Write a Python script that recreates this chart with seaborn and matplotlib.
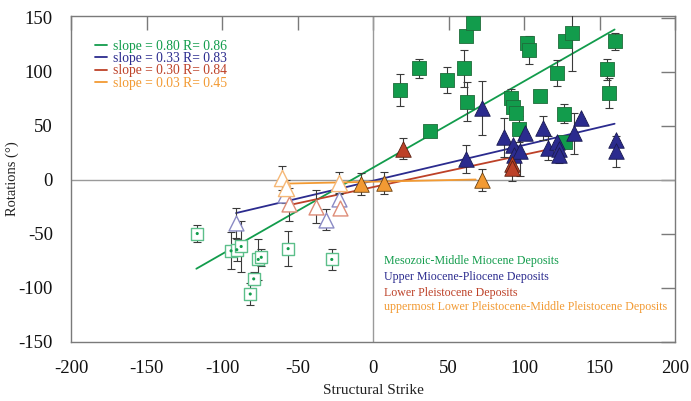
import numpy as np
import pandas as pd
import matplotlib
matplotlib.use("Agg")
import matplotlib.pyplot as plt
import seaborn as sns

# ---------------- data ----------------
# Mesozoic-Middle Miocene (filled green squares)
meso_x = [18, 30.5, 48.7, 38, 60, 62, 61.5, 66, 91.5, 93, 95, 96.4, 102, 103.5, 110.7, 122, 127, 132, 126.7, 127, 155, 156, 160]
meso_y = [83, 103, 92, 45, 103, 72, 133, 145, 76, 67, 62, 47, 126.5, 120, 77, 99, 128, 136, 61, 35, 102, 80, 128]
meso_e = [15, 9, 12, 5, 17, 18, 0, 0, 8, 0, 0, 12, 5, 13, 2, 12, 5, 35, 9, 0, 10, 14, 8]
# Mesozoic-Middle Miocene (open green squares)
mesoo_x = [-116.4, -94, -90.2, -87.3, -76, -74, -79, -81.3, -56.2, -27.3]
mesoo_y = [-50, -66, -65, -62, -74, -72, -92, -106, -64, -74]
mesoo_e = [8, 17, 10, 24, 19, 8, 6, 10, 16, 10]
# Upper Miocene-Pliocene (filled blue triangles)
upm_x = [72, 61.5, 87, 92.4, 93.5, 97.6, 100.4, 112.4, 116, 122, 123, 123, 133, 137.6, 161, 161]
upm_y = [66, 19, 39, 32, 23, 26, 43, 48, 29, 35, 28, 23, 43, 57, 37, 26]
upm_e = [25, 13, 18, 0, 0, 23, 0, 11, 11, 0, 0, 8, 19, 0, 0, 14]
# Upper Miocene-Pliocene (open blue triangles)
upmo_x = [-90.7, -58.4, -31.3, -22.4]
upmo_y = [-40, -14, -37, -18]
upmo_e = [14, 8, 10, 6]
# Lower Pleistocene (filled red triangles)
lp_x = [20, 92, 92]
lp_y = [28.7, 14, 11]
lp_e = [10, 15, 0]
# Lower Pleistocene (open red triangles)
lpo_x = [-55.8, -38, -21.8]
lpo_y = [-23, -25, -26]
lpo_e = [15, 15, 5]
# uppermost Lower Pleistocene-Middle Pleistocene (filled orange triangles)
ump_x = [-8, 7, 72]
ump_y = [-4, -3, -0.6]
ump_e = [10, 10, 10]
# uppermost Lower Pleistocene-Middle Pleistocene (open orange triangles)
umpo_x = [-60, -57.3, -22.4]
umpo_y = [1.5, -8, -3]
umpo_e = [11, 8, 10]

# regression fits: slope, intercept, x-range
fit_slope = [0.80, 0.33, 0.30, 0.03]
fit_icpt = [11.0, -1.1, -7.0, -2.0]
fit_xmin = [-117, -90.7, -56, -59]
fit_xmax = [160, 160, 115, 68]
fit_labels = ["slope = 0.80 R= 0.86", "slope = 0.33 R= 0.83",
              "slope = 0.30 R= 0.84", "slope = 0.03 R= 0.45"]

group_names = ["Mesozoic-Middle Miocene Deposits", "Upper Miocene-Pliocene Deposits",
               "Lower Pleistocene Deposits",
               "uppermost Lower Pleistocene-Middle Pleistocene Deposits"]

x_ticks = [-200, -150, -100, -50, 0, 50, 100, 150, 200]
y_ticks = [-150, -100, -50, 0, 50, 100, 150]

# ---------------- style ----------------
GREEN = "#129c4c"
BLUE = "#2b2b8e"
RED = "#bd4128"
ORANGE = "#f29a33"
LGREEN = "#5cbf8a"
LBLUE = "#8a8ac4"
LRED = "#de8d78"
LORANGE = "#f6b877"
colors = [GREEN, BLUE, RED, ORANGE]

sns.set_theme(style="white")
plt.rcParams["font.family"] = ["Liberation Serif", "DejaVu Serif"]
plt.rcParams["mathtext.fontset"] = "stix"

fig = plt.figure(figsize=(6.91, 4.01), dpi=100)
ax = fig.add_axes([71 / 691, 1 - 341.5 / 401, 604 / 691, 325.5 / 401])
ax.set_xlim(-200, 200)
ax.set_ylim(-150, 151.5)

ax.axhline(0, color="#9a9a9a", lw=1.0, zorder=1)
ax.axvline(0, color="#9a9a9a", lw=1.0, zorder=1)

# regression lines
line_handles = []
for s, b, x0, x1, c, lab in zip(fit_slope, fit_icpt, fit_xmin, fit_xmax, colors, fit_labels):
    xs = np.array([x0, x1])
    h, = ax.plot(xs, s * xs + b, color=c, lw=1.3, zorder=2, label=lab)
    line_handles.append(h)


def draw(xs, ys, es, marker, size, face, edge, lw=0.8, dot=None):
    ax.errorbar(xs, ys, yerr=es, fmt="none", ecolor="#3a3a3a", elinewidth=0.8,
                capsize=3, capthick=0.8, zorder=3)
    df = pd.DataFrame({"x": xs, "y": ys})
    sns.scatterplot(data=df, x="x", y="y", marker=marker, s=size, color=face,
                    edgecolor=edge, linewidth=lw, ax=ax, zorder=4, legend=False)
    if dot is not None:
        sns.scatterplot(data=df, x="x", y="y", marker="o", s=5, color=dot,
                        edgecolor="none", ax=ax, zorder=5, legend=False)


draw(mesoo_x, mesoo_y, mesoo_e, "s", 85, "white", LGREEN, lw=1.0, dot=GREEN)
draw(upmo_x, upmo_y, upmo_e, "^", 115, "white", LBLUE, lw=1.0)
draw(lpo_x, lpo_y, lpo_e, "^", 115, "white", LRED, lw=1.0)
draw(umpo_x, umpo_y, umpo_e, "^", 135, "white", LORANGE, lw=1.0)
draw(meso_x, meso_y, meso_e, "s", 95, GREEN, "#1f6b3a", lw=0.6)
draw(upm_x, upm_y, upm_e, "^", 125, BLUE, "#1a1a50", lw=0.6)
draw(lp_x, lp_y, lp_e, "^", 125, RED, "#5a2010", lw=0.6)
draw(ump_x, ump_y, ump_e, "^", 125, ORANGE, "#6a4010", lw=0.6)

# axes styling
for sp in ax.spines.values():
    sp.set_color("#7a7a7a")
    sp.set_linewidth(1.0)
ax.set_xticks(x_ticks)
ax.set_yticks(y_ticks)
ax.set_xticklabels([str(v) for v in x_ticks])
ax.set_yticklabels([str(v) for v in y_ticks])
ax.tick_params(axis="both", direction="in", length=10, width=1.0, color="#7a7a7a",
               top=True, right=True, labelsize=13.5, labelcolor="#111111")
ax.tick_params(axis="x", pad=13)
ax.tick_params(axis="y", pad=13)
ax.set_xlabel("Structural Strike", fontsize=11, color="#222222")
ax.set_ylabel("Rotations (°)", fontsize=10.5, color="#222222")
ax.xaxis.set_label_coords(0.5, -(391 - 341.5) / 325.5)
ax.xaxis.label.set_va("center")
ax.yaxis.set_label_coords(-(71 - 12) / 604, 0.5)
ax.yaxis.label.set_va("center")
ax.grid(False)

leg = ax.legend(handles=line_handles, loc="upper left", bbox_to_anchor=(0.040, 0.927),
                frameon=False, fontsize=9.8, handlelength=0.9, handletextpad=0.4,
                labelspacing=-0.05, borderpad=0, borderaxespad=0, labelcolor="linecolor")

# group labels
ann_y = [-75, -90, -105, -118]
for name, c, yy in zip(group_names, colors, ann_y):
    ax.text(7, yy, name, color=c, fontsize=8.6, va="center", ha="left")

fig.savefig("out.png", dpi=100)
